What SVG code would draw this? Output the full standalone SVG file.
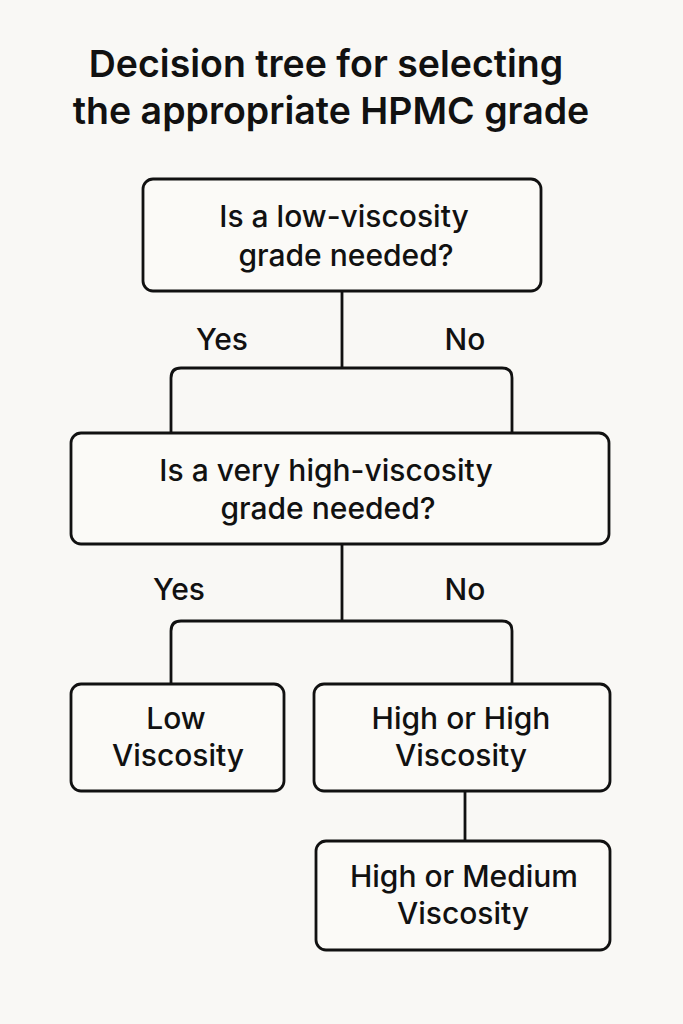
<svg xmlns="http://www.w3.org/2000/svg" width="683" height="1024" viewBox="0 0 683 1024">
<style>
.b{fill:#fbfaf7;stroke:#111;stroke-width:2.8}
.t{font-family:"Inter","Liberation Sans",sans-serif;font-size:30px;fill:#111;text-anchor:middle;font-weight:500}
.h{font-family:"Inter","Liberation Sans",sans-serif;font-size:37.5px;fill:#111;text-anchor:middle;font-weight:600}
.c{fill:none;stroke:#111;stroke-width:2.8}
</style>
<rect width="683" height="1024" fill="#f9f8f5"/>
<text class="h" x="326" y="77">Decision tree for selecting</text>
<text class="h" x="331" y="124">the appropriate HPMC grade</text>
<g id="connectors">
<path class="c" d="M342 291V368M171 433V378Q171 368 181 368H502Q512 368 512 378V433"/>
<path class="c" d="M342 544V621M171 684V631Q171 621 181 621H502Q512 621 512 631V684"/>
<path class="c" d="M465 791V841"/>
</g>
<g id="labels">
<text class="t" x="222" y="350">Yes</text>
<text class="t" x="465" y="350">No</text>
<text class="t" x="179" y="600">Yes</text>
<text class="t" x="465" y="600">No</text>
</g>
<g id="q1"><rect class="b" x="143" y="179" width="398" height="112" rx="10"/>
<text class="t" x="344" y="227">Is a low-viscosity</text><text class="t" x="346" y="266">grade needed?</text></g>
<g id="q2"><rect class="b" x="71" y="433" width="538" height="111" rx="10"/>
<text class="t" x="326" y="481">Is a very high-viscosity</text><text class="t" x="328" y="519">grade needed?</text></g>
<g id="low"><rect class="b" x="71" y="684" width="213" height="107" rx="10"/>
<text class="t" x="176" y="729">Low</text><text class="t" x="178" y="766">Viscosity</text></g>
<g id="high"><rect class="b" x="314" y="684" width="296" height="107" rx="10"/>
<text class="t" x="461" y="729">High or High</text><text class="t" x="461" y="766">Viscosity</text></g>
<g id="medium"><rect class="b" x="316" y="841" width="294" height="109" rx="10"/>
<text class="t" x="464" y="887">High or Medium</text><text class="t" x="463" y="924">Viscosity</text></g>
</svg>
